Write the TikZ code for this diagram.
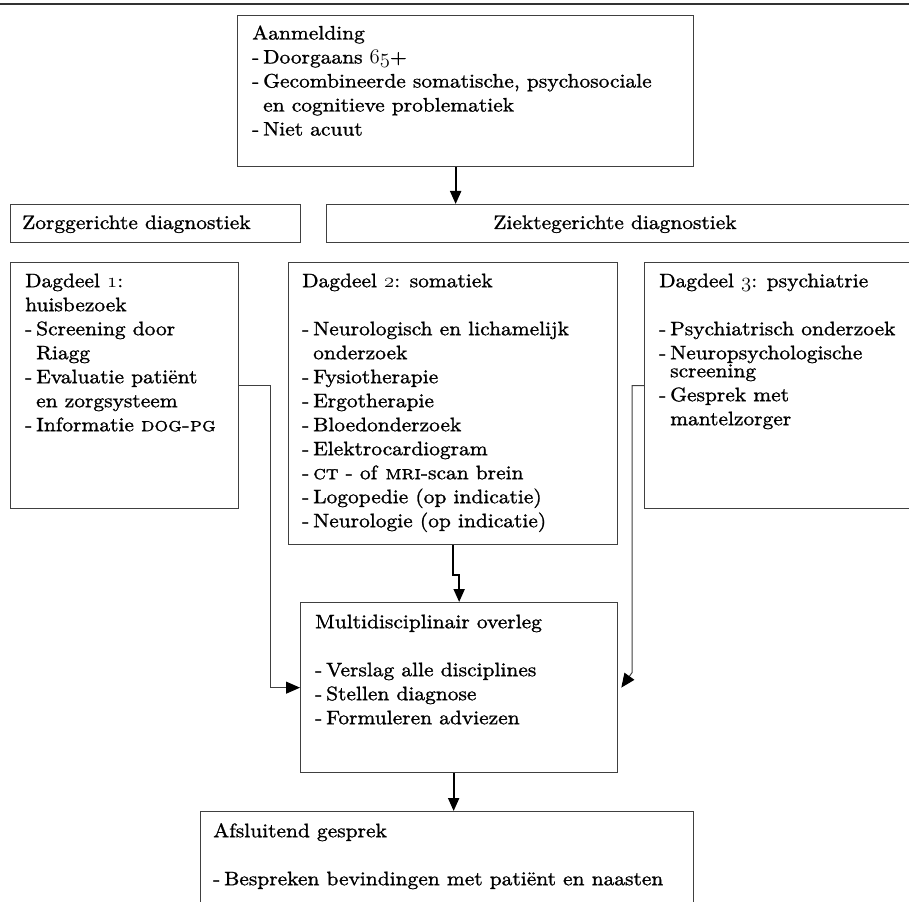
\documentclass[tikz,border=0pt]{standalone}
\usepackage{fontspec}
\setmainfont{lmroman10-regular.otf}[
  BoldFont=lmroman10-bold.otf,
  ItalicFont=lmroman10-italic.otf,
  SmallCapsFont=lmromancaps10-regular.otf,
  FakeStretch=1.1,
  FakeBold=1.2]
\usetikzlibrary{arrows.meta}
\newcommand\osf[1]{{\fontencoding{OML}\fontfamily{lmm}\fontseries{b}\fontshape{it}\selectfont #1}}
\newcommand\di{\makebox[11pt][l]{-}}
\newcommand\ci{\hspace*{11pt}}
\begin{document}
\begin{tikzpicture}[x=1pt,y=-1pt,
  font=\fontsize{19.5}{24}\selectfont,
  boxn/.style={draw=black!75,line width=1.3pt,rectangle,inner sep=0pt,anchor=north west},
  txt/.style={inner sep=0pt,anchor=north west,align=left},
  thinline/.style={draw=black!75,line width=1pt,-{Triangle[length=14pt,width=12pt,color=black]}},
  arr/.style={draw=black,line width=2pt,-{Triangle[length=13pt,width=11pt]}}]
\clip (0,0) rectangle (909,901);
\fill[white] (0,0) rectangle (909,901);
\draw[black!80,line width=1.3pt] (0,4) -- (909,4);
% boxes
\node[boxn,minimum width=456pt,minimum height=151pt] (A) at (237,15) {};
\node[boxn,minimum width=290pt,minimum height=38pt] (Z1) at (10,204) {};
\node[boxn,minimum width=600pt,minimum height=38pt] (Z2) at (326,204) {};
\node[boxn,minimum width=228pt,minimum height=246pt] (D1) at (10,262) {};
\node[boxn,minimum width=329pt,minimum height=282pt] (D2) at (288,262) {};
\node[boxn,minimum width=300pt,minimum height=246pt] (D3) at (644,262) {};
\node[boxn,minimum width=317pt,minimum height=170pt] (M) at (300,602) {};
\node[boxn,minimum width=493pt,minimum height=150pt] (F) at (200,811) {};
% texts
\node[txt] (tA) at (252,22.5) {\strut Aanmelding\\
\di Doorgaans \osf{65}+\\
\di Gecombineerde somatische, psychosociale\\
\ci en cognitieve problematiek\\
\di Niet acuut};
\node[inner sep=0pt,anchor=base west] (tZ1) at (22,229) {Zorggerichte diagnostiek};
\node[inner sep=0pt,anchor=base] (tZ2) at (615,229) {Ziektegerichte diagnostiek};
\node[txt] (tD1) at (25,270.2) {\strut Dagdeel \osf{1}:\\
huisbezoek\\
\di Screening door\\
\ci Riagg\\
\di Evaluatie patiënt\\
\ci en zorgsysteem\\
\di Informatie \textsc{dog-pg}};
\node[txt] (tD2) at (302,270.2) {\strut Dagdeel \osf{2}: somatiek\\[24pt]
\di Neurologisch en lichamelijk\\
\ci onderzoek\\
\di Fysiotherapie\\
\di Ergotherapie\\
\di Bloedonderzoek\\
\di Elektrocardiogram\\
\di \textsc{ct} - of \textsc{mri}-scan brein\\
\di Logopedie (op indicatie)\\
\di Neurologie (op indicatie)};
\node[txt] (tD3) at (659,270.2) {\strut Dagdeel \osf{3}: psychiatrie\\[24pt]
\di Psychiatrisch onderzoek\\
\di Neuropsychologische\\[-6pt]
\ci screening\\
\di Gesprek met\\
\ci mantelzorger};
\node[txt] (tM) at (315,611.2) {\strut Multidisciplinair overleg\\[24pt]
\di Verslag alle disciplines\\
\di Stellen diagnose\\
\di Formuleren adviezen};
\node[txt] (tF) at (213,820.2) {\strut Afsluitend gesprek\\[24pt]
\di Bespreken bevindingen met patiënt en naasten};
% connectors
\draw[arr] ([xshift=-10pt]A.south) -- ([xshift=-10pt]A.south |- Z2.north);
\draw[thinline] (D1.east) -- ++(31,0) |- (M.west);
\draw[arr] (D2.south) -- ++(0,30) -| (M.north);
\draw[thinline] (D3.west) -- ++(-12,0) -- ++(0,287) -- ([xshift=3pt]M.east);
\draw[arr] ([xshift=-5.5pt]M.south) -- ([xshift=-5.5pt]M.south |- F.north);
\end{tikzpicture}
\end{document}
